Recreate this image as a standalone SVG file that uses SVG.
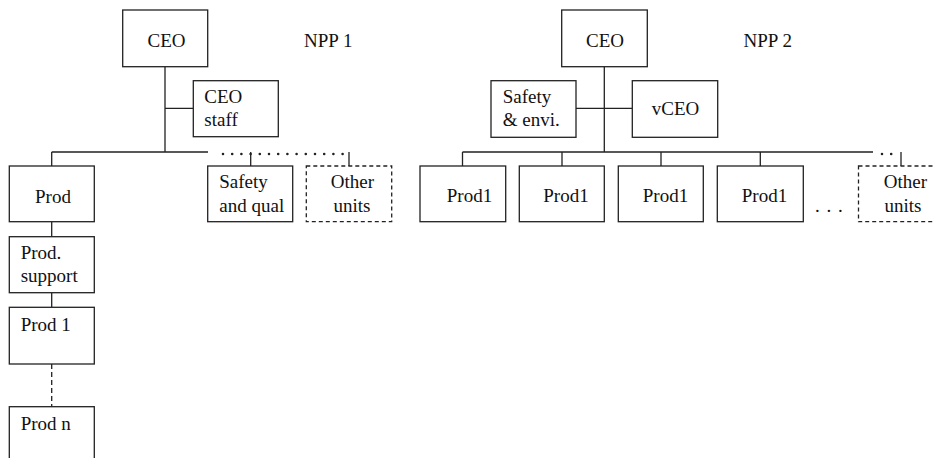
<svg xmlns="http://www.w3.org/2000/svg" width="935" height="458" viewBox="0 0 935 458">
<style>
.box{fill:#fff;stroke:#222;stroke-width:1.3}
.dbox{fill:#fff;stroke:#222;stroke-width:1.3;stroke-dasharray:4 3}
.ln{fill:none;stroke:#222;stroke-width:1.3}
.dash{fill:none;stroke:#222;stroke-width:1.3;stroke-dasharray:5 3}
.dot{fill:none;stroke:#222;stroke-width:2.6;stroke-linecap:round;stroke-dasharray:0 9.2}
text{font-family:'Liberation Serif','Times New Roman','DejaVu Serif',serif;font-size:19px;fill:#111}
.c{text-anchor:middle}
</style>
<rect width="935" height="458" fill="#fff"/>
<g id="connectors">
<path class="ln" d="M165 67V152M165 108.3H193.3M51.7 152H208M51.7 152V166M250.7 152V166M349 152V166M51.7 222V236.7M51.7 292.7V307.3"/>
<path class="dot" d="M223 154H344"/>
<path class="dash" d="M51.7 364V406.7"/>
<path class="ln" d="M604.3 67V152M576 108.3H632.3M462.5 152H873M462.5 152V166M562 152V166M661 152V166M760.3 152V166M901 152V166"/>
<path class="dot" d="M882 154H892"/>
</g>
<g font-family="Liberation Serif, Times New Roman, serif">
<g id="npp1-label"><text x="304" y="46.5">NPP 1</text></g>
<g id="npp2-label"><text x="743.5" y="46.5">NPP 2</text></g>
<g id="ceo1"><rect class="box" x="122.7" y="10" width="85" height="56.7"/><text class="c" x="166.5" y="47">CEO</text></g>
<g id="ceo-staff"><rect class="box" x="193.3" y="80.7" width="85" height="56"/><text x="204.3" y="102.7">CEO</text><text x="204.3" y="126">staff</text></g>
<g id="prod"><rect class="box" x="9.3" y="166" width="85" height="55.7"/><text class="c" x="53" y="202.5">Prod</text></g>
<g id="safety-qual"><rect class="box" x="207.7" y="166" width="85" height="55.7"/><text x="219.3" y="188.3">Safety</text><text x="219.3" y="211.7">and qual</text></g>
<g id="other1"><rect class="dbox" x="306.3" y="166" width="85.4" height="55.7"/><text class="c" x="352.5" y="188.3">Other</text><text class="c" x="352" y="211.7">units</text></g>
<g id="prod-support"><rect class="box" x="9.3" y="236.7" width="85" height="56"/><text x="20.7" y="259.3">Prod.</text><text x="20.7" y="281.7">support</text></g>
<g id="prod-1"><rect class="box" x="9.3" y="307.3" width="85" height="56.7"/><text x="20.7" y="331">Prod 1</text></g>
<g id="prod-n"><rect class="box" x="9.3" y="406.7" width="85" height="80"/><text x="20.7" y="430">Prod n</text></g>
<g id="ceo2"><rect class="box" x="561.7" y="10" width="85.6" height="56.7"/><text class="c" x="605" y="47">CEO</text></g>
<g id="safety-envi"><rect class="box" x="491" y="80.7" width="85" height="56.6"/><text x="502.7" y="102.7">Safety</text><text x="502.7" y="126">&amp; envi.</text></g>
<g id="vceo"><rect class="box" x="632.3" y="80.7" width="85.4" height="56.6"/><text class="c" x="675.5" y="115">vCEO</text></g>
<g id="prod1-a"><rect class="box" x="420" y="166" width="85.7" height="55.7"/><text class="c" x="469.5" y="201.7">Prod1</text></g>
<g id="prod1-b"><rect class="box" x="519.3" y="166" width="85" height="55.7"/><text class="c" x="566" y="201.7">Prod1</text></g>
<g id="prod1-c"><rect class="box" x="618.3" y="166" width="85" height="55.7"/><text class="c" x="665.5" y="201.7">Prod1</text></g>
<g id="prod1-d"><rect class="box" x="717.3" y="166" width="86" height="55.7"/><text class="c" x="764.5" y="201.7">Prod1</text></g>
<g id="ellipsis"><text x="815" y="211.7" letter-spacing="6.8">...</text></g>
<g id="other2"><rect class="dbox" x="858.5" y="166" width="86" height="55.7"/><text class="c" x="905.5" y="188.3">Other</text><text class="c" x="903" y="211.7">units</text></g>
</g>
</svg>
